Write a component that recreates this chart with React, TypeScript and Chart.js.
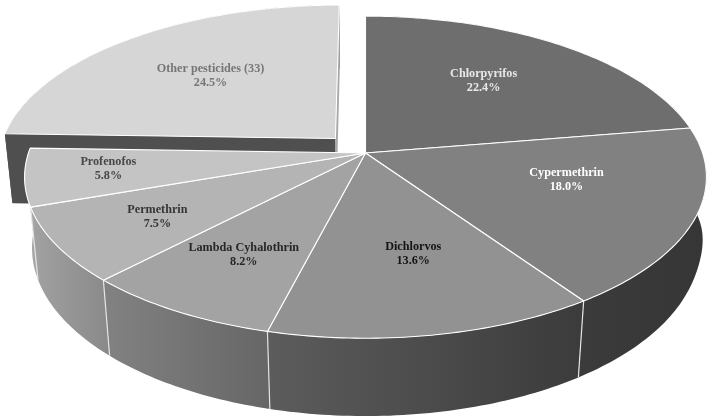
import React, { useEffect, useRef } from "react";
import { Chart, registerables } from "chart.js";

Chart.register(...registerables);

const categories = ["Chlorpyrifos", "Cypermethrin", "Dichlorvos", "Lambda Cyhalothrin", "Permethrin", "Profenofos", "Other pesticides (33)"];
const shares = [22.4, 18.0, 13.6, 8.2, 7.5, 5.8, 24.5];
const explode = [0, 0, 0, 0, 0, 0, 0.13];

const topColors = ["#6e6e6e", "#818181", "#929292", "#a3a3a3", "#b4b4b4", "#c4c4c4", "#d6d6d6"];
const wallColors = [
  ["#3a3a3a", "#3a3a3a"],
  ["#3b3b3b", "#363636"],
  ["#5c5c5c", "#3b3b3b"],
  ["#828282", "#666666"],
  ["#a2a2a2", "#898989"],
  ["#aaaaaa", "#a4a4a4"],
  ["#4f4f4f", "#4f4f4f"],
];
const labelColors = ["#e8e8e8", "#ffffff", "#141414", "#262626", "#363636", "#484848", "#767676"];
const labelRadius = [0.624, 0.604, 0.594, 0.672, 0.693, 0.758, 0.6];
const labelAngleShift = [-3.2, -7.5, -2.5, 0.2, -0.2, 1.5, 1.5];

// camera model of the tilted disc
const X_FACTOR = 2.203;
const Y_FACTOR = 1.029;
const DEPTH_FACTOR = 0.47;
const PERSPECTIVE = 0.15;
const DEPTH_PERSPECTIVE = 0.0218;
const LOW_RIM_BULGE = 5;

type Pt = [number, number];

const pie3d = {
  id: "pie3d",
  beforeDatasetDraw() {
    return false; // the arcs are painted, tilted, by afterDatasetsDraw
  },
  afterDatasetsDraw(chart: any) {
    const ctx: CanvasRenderingContext2D = chart.ctx;
    const arcs = chart.getDatasetMeta(0).data;
    const cx = arcs[0].x;
    const cy = arcs[0].y;
    const R = arcs[0].outerRadius;
    const rx = R * X_FACTOR;
    const ry = R * Y_FACTOR;
    const depth = R * DEPTH_FACTOR;

    const project = (X: number, Y: number, low: boolean): Pt => {
      const w = 1 - PERSPECTIVE * Y + (low ? DEPTH_PERSPECTIVE : 0);
      return [cx + (rx * X) / w, cy + (ry * Y + (low ? depth : 0)) / w];
    };

    const slices = arcs.map((a: any, i: number) => {
      const mid = (a.startAngle + a.endAngle) / 2;
      const ox = explode[i] * Math.cos(mid);
      const oy = explode[i] * Math.sin(mid);
      const rim = (low: boolean): Pt[] => {
        const n = Math.max(2, Math.ceil(((a.endAngle - a.startAngle) * 180) / Math.PI));
        const pts: Pt[] = [];
        for (let k = 0; k <= n; k++) {
          const t = a.startAngle + ((a.endAngle - a.startAngle) * k) / n;
          const p = project(ox + Math.cos(t), oy + Math.sin(t), low);
          if (low) p[0] += LOW_RIM_BULGE * Math.pow(Math.max(0, Math.cos(t)), 40);
          pts.push(p);
        }
        return pts;
      };
      return { i, mid, ox, oy, top: rim(false), bottom: rim(true), apex: project(ox, oy, false), apexLow: project(ox, oy, true) };
    });

    const path = (pts: Pt[], close = true) => {
      ctx.beginPath();
      pts.forEach((p, k) => (k ? ctx.lineTo(p[0], p[1]) : ctx.moveTo(p[0], p[1])));
      if (close) ctx.closePath();
    };

    const paintWall = (s: any) => {
      const all: Pt[] = [...s.top, ...s.bottom];
      const xs = all.map((p) => p[0]);
      const g = ctx.createLinearGradient(Math.min(...xs), 0, Math.max(...xs), 0);
      g.addColorStop(0, wallColors[s.i][0]);
      g.addColorStop(1, wallColors[s.i][1]);
      path([...s.top, ...[...s.bottom].reverse()]);
      ctx.fillStyle = g;
      ctx.fill();
    };

    const paintCuts = (s: any) => {
      const n = s.top.length - 1;
      path([s.apex, s.top[0], s.bottom[0], s.apexLow]);
      ctx.fillStyle = wallColors[s.i][0];
      ctx.fill();
      path([s.apex, s.top[n], s.bottom[n], s.apexLow]);
      ctx.fillStyle = "#a8a8a8";
      ctx.fill();
    };

    const paintTop = (s: any) => {
      path([s.apex, ...s.top]);
      ctx.fillStyle = topColors[s.i];
      ctx.fill();
      ctx.strokeStyle = "#ffffff";
      ctx.lineWidth = 1.1;
      ctx.lineJoin = "round";
      ctx.stroke();
    };

    const paintSeams = (s: any) => {
      ctx.strokeStyle = "#e4e4e4";
      ctx.lineWidth = 1.2;
      path([s.top[0], s.bottom[0]], false);
      ctx.stroke();
    };

    const pulled = slices.filter((s: any) => explode[s.i] > 0);
    const seated = slices.filter((s: any) => explode[s.i] === 0);

    pulled.forEach((s: any) => {
      paintWall(s);
      paintCuts(s);
      paintTop(s);
    });
    seated.forEach(paintWall);
    seated.forEach((s: any) => {
      // seams only where the wall faces the viewer
      if (Math.sin(s.mid) > 0 && s.i > 1) paintSeams(s);
    });
    seated.forEach(paintTop);

    ctx.font = 'bold 12.2px "Liberation Serif"';
    ctx.textAlign = "center";
    ctx.textBaseline = "middle";
    slices.forEach((s: any) => {
      const t = s.mid + (labelAngleShift[s.i] * Math.PI) / 180;
      const [x, y] = project(s.ox + labelRadius[s.i] * Math.cos(t), s.oy + labelRadius[s.i] * Math.sin(t), false);
      ctx.fillStyle = labelColors[s.i];
      ctx.fillText(categories[s.i], x, y - 6);
      ctx.fillText(shares[s.i].toFixed(1) + "%", x, y + 8);
    });
  },
};

export default function App() {
  const ref = useRef<HTMLCanvasElement>(null);
  useEffect(() => {
    const chart = new Chart(ref.current!, {
      type: "pie",
      data: {
        labels: categories,
        datasets: [{ data: shares, backgroundColor: topColors, borderWidth: 0 }],
      },
      options: {
        responsive: false,
        animation: false,
        layout: { padding: { left: 17, right: 0, top: 0, bottom: 113 } },
        plugins: { legend: { display: false }, tooltip: { enabled: false } },
      },
      plugins: [pie3d as any],
    });
    return () => chart.destroy();
  }, []);
  return (
    <div style={{ position: "fixed", left: 0, top: 0, width: 714, height: 419, background: "#fff" }}>
      <canvas ref={ref} width={714} height={419} style={{ display: "block" }} />
    </div>
  );
}
